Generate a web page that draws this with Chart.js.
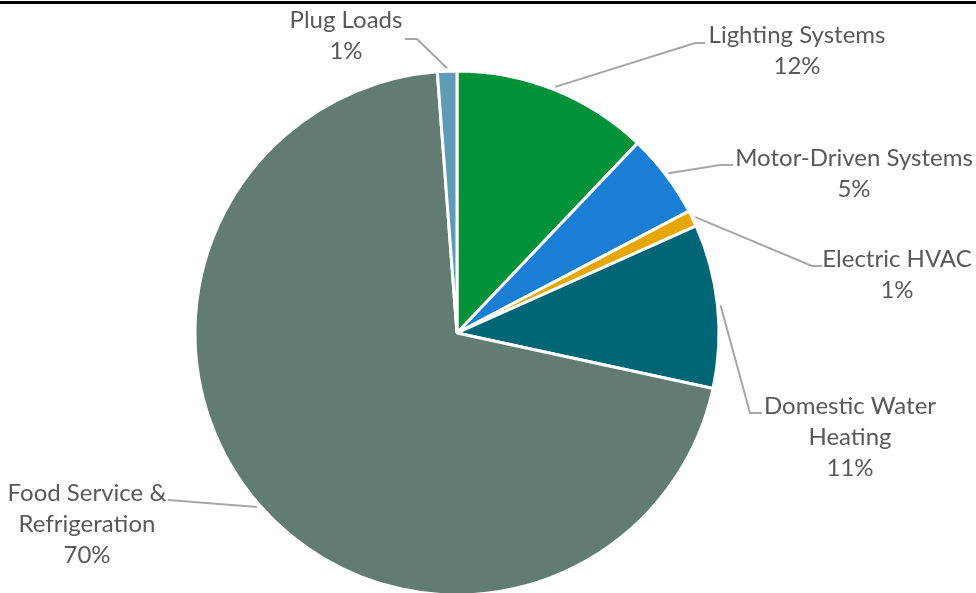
<!DOCTYPE html>
<html>
<head>
<meta charset="utf-8">
<script src="https://cdn.jsdelivr.net/npm/chart.js@4.4.0/dist/chart.umd.min.js"></script>
<style>
  html, body { margin: 0; padding: 0; background: #fff; }
  #wrap { position: relative; width: 976px; height: 593px; overflow: hidden; }
  #energyPie { position: absolute; left: 0; top: 0; }
  #topRule { position: absolute; left: 0; top: 1px; width: 976px; height: 3px; background: #000; }
</style>
</head>
<body>
<div id="wrap">
  <canvas id="energyPie" width="976" height="593"></canvas>
  <div id="topRule"></div>
</div>
<script>
// 用途別の割合（12時から時計回り）
const categories = ['Lighting Systems', 'Motor-Driven Systems', 'Electric HVAC', 'Domestic Water Heating', 'Food Service & Refrigeration', 'Plug Loads'];
const shares = [12.1, 5.2, 1.0, 10.1, 70.4, 1.2];
const shareLabels = ['12%', '5%', '1%', '11%', '70%', '1%'];
const labelLines = [['Lighting Systems'], ['Motor-Driven Systems'], ['Electric HVAC'], ['Domestic Water', 'Heating'], ['Food Service &', 'Refrigeration'], ['Plug Loads']];
const sliceColors = ['#009239', '#1A7ED5', '#E8A600', '#006574', '#627C74', '#5F9BB7'];

// ラベルの置き場所（テキスト中心、折れ点、終点）
const labelLayout = [
    { x: 797, y: 35, elbow: [695, 43], end: [705, 43] },
    { x: 854, y: 158, elbow: [720, 165], end: [733, 165] },
    { x: 897, y: 259, elbow: [812, 266], end: [822, 266] },
    { x: 850, y: 406, elbow: [750, 413], end: [762, 413] },
    { x: 87, y: 493, elbow: [168, 500], end: [168, 500] },
    { x: 346, y: 20, elbow: [417, 39], end: [405, 39] }
];

const leaderLabels = {
    id: 'leaderLabels',
    afterDatasetsDraw(chart) {
        const ctx = chart.ctx;
        const arcs = chart.getDatasetMeta(0).data;
        ctx.save();
        arcs.forEach((arc, i) => {
            const p = arc.getProps(['x', 'y', 'startAngle', 'endAngle', 'outerRadius'], true);
            const mid = (p.startAngle + p.endAngle) / 2;
            const r = p.outerRadius + 3;
            const ax = p.x + Math.cos(mid) * r;
            const ay = p.y + Math.sin(mid) * r;
            const lay = labelLayout[i];
            ctx.strokeStyle = '#A6A6A6';
            ctx.lineWidth = 2;
            ctx.beginPath();
            ctx.moveTo(ax, ay);
            ctx.lineTo(lay.elbow[0], lay.elbow[1]);
            ctx.lineTo(lay.end[0], lay.end[1]);
            ctx.stroke();

            ctx.fillStyle = '#595959';
            ctx.font = '24px Lato';
            ctx.textAlign = 'center';
            ctx.textBaseline = 'middle';
            const lines = labelLines[i].concat([shareLabels[i]]);
            lines.forEach((t, k) => {
                ctx.fillText(t, lay.x, lay.y + k * 31);
            });
        });
        ctx.restore();
    }
};

const ctx = document.getElementById('energyPie').getContext('2d');
const chart = new Chart(ctx, {
    type: 'pie',
    data: {
        labels: categories,
        datasets: [{
            data: shares,
            backgroundColor: sliceColors,
            borderColor: '#ffffff',
            borderWidth: 3,
            radius: 262
        }]
    },
    options: {
        responsive: false,
        animation: false,
        devicePixelRatio: 1,
        layout: { padding: { left: 0, right: 62, top: 73, bottom: 0 } },
        plugins: {
            legend: { display: false },
            tooltip: { enabled: false }
        }
    },
    plugins: [leaderLabels]
});
</script>
</body>
</html>
